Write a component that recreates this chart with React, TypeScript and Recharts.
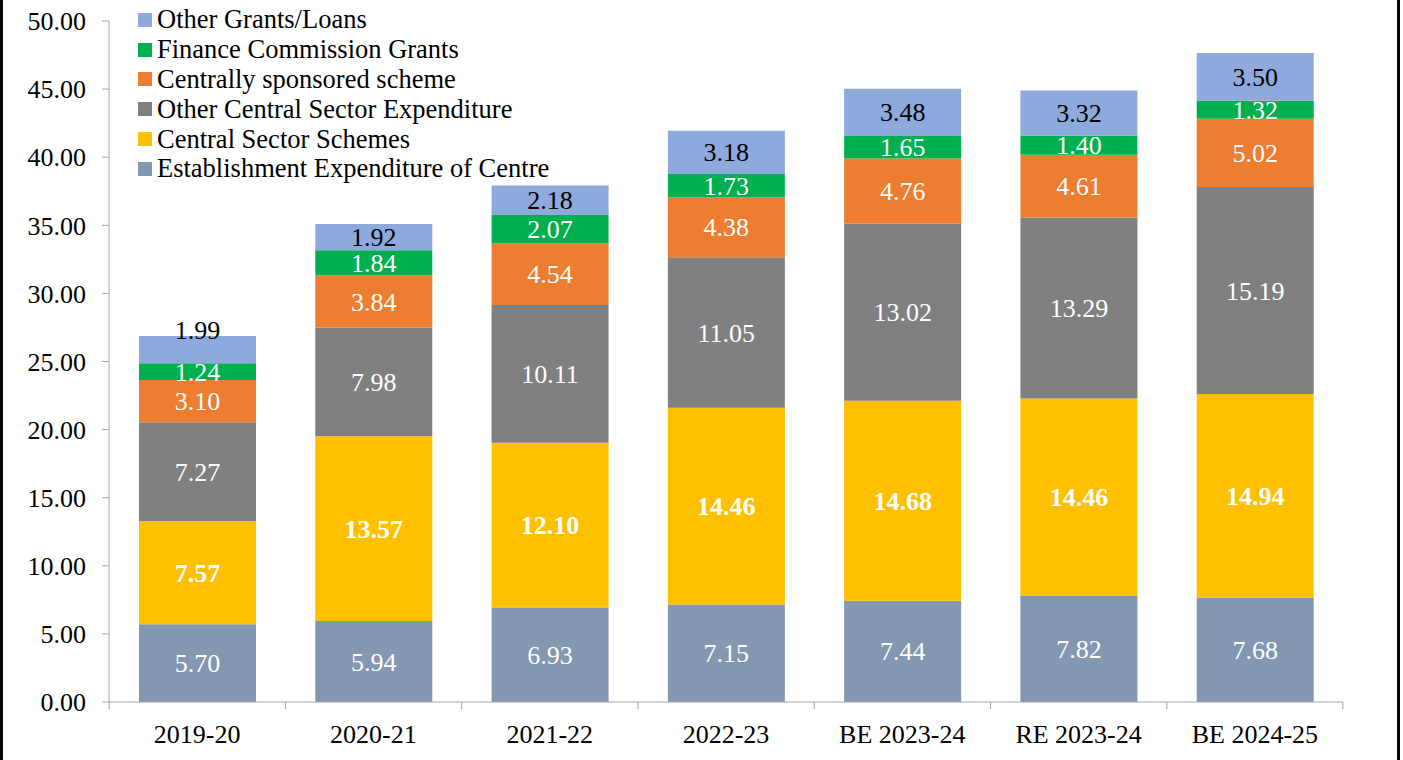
import React from 'react';
import { BarChart, Bar, XAxis, YAxis, LabelList } from 'recharts';

const years = ['2019-20', '2020-21', '2021-22', '2022-23', 'BE 2023-24', 'RE 2023-24', 'BE 2024-25'];

const establishment = [5.7, 5.94, 6.93, 7.15, 7.44, 7.82, 7.68];
const centralSchemes = [7.57, 13.57, 12.1, 14.46, 14.68, 14.46, 14.94];
const otherCentral = [7.27, 7.98, 10.11, 11.05, 13.02, 13.29, 15.19];
const centrallySponsored = [3.1, 3.84, 4.54, 4.38, 4.76, 4.61, 5.02];
const financeCommission = [1.24, 1.84, 2.07, 1.73, 1.65, 1.4, 1.32];
const otherGrants = [1.99, 1.92, 2.18, 3.18, 3.48, 3.32, 3.5];

const yTicks = [0, 5, 10, 15, 20, 25, 30, 35, 40, 45, 50];

const FONT = '"Liberation Serif", "Times New Roman", serif';
const AXIS_GREY = '#A6A6A6';

const series = [
  { key: 'est', name: 'Establishment Expenditure of Centre', color: '#8497B0', label: '#FFFFFF', bold: false },
  { key: 'css', name: 'Central Sector Schemes', color: '#FFC000', label: '#FFFFFF', bold: true },
  { key: 'ocse', name: 'Other Central Sector Expenditure', color: '#808080', label: '#FFFFFF', bold: false },
  { key: 'cs', name: 'Centrally sponsored scheme', color: '#ED7D31', label: '#FFFFFF', bold: false },
  { key: 'fc', name: 'Finance Commission Grants', color: '#00B050', label: '#FFFFFF', bold: false },
  { key: 'ogl', name: 'Other Grants/Loans', color: '#8EA9DB', label: '#000000', bold: false },
];

const data = years.map((year, i) => ({
  year,
  est: establishment[i],
  css: centralSchemes[i],
  ocse: otherCentral[i],
  cs: centrallySponsored[i],
  fc: financeCommission[i],
  ogl: otherGrants[i],
}));

const HALF_BAND = 88;

function XTick(props: any) {
  const { x, y, payload, index } = props;
  const top = y - 8;
  return (
    <g>
      <line x1={x - HALF_BAND} x2={x - HALF_BAND} y1={top} y2={top + 7} stroke={AXIS_GREY} />
      {index === years.length - 1 && (
        <line x1={x + HALF_BAND} x2={x + HALF_BAND} y1={top} y2={top + 7} stroke={AXIS_GREY} />
      )}
      <text x={x} y={top + 41} textAnchor="middle" fontSize={26} fontFamily={FONT} fill="#000">
        {payload.value}
      </text>
    </g>
  );
}

// centred segment label; the first top label sits a little higher, as in the source
function makeLabel(s: typeof series[number]) {
  return (props: any) => {
    const { x, y, width, height, value, index } = props;
    const lift = s.key === 'ogl' && index === 0 ? 20 : 0;
    return (
      <text
        x={x + width / 2}
        y={y + height / 2 - lift}
        dy="0.35em"
        textAnchor="middle"
        fill={s.label}
        fontSize={26}
        fontFamily={FONT}
        fontWeight={s.bold ? 'bold' : 'normal'}
      >
        {Number(value).toFixed(2)}
      </text>
    );
  };
}

// legend sits over the plot, top-left, in reverse stack order
function LegendBox() {
  const items = [...series].reverse();
  return (
    <div style={{ position: 'absolute', left: 138, top: 5, fontFamily: FONT, fontSize: 26.5, color: '#000' }}>
      {items.map(s => (
        <div key={s.key} style={{ display: 'flex', alignItems: 'center', height: 29.8, whiteSpace: 'nowrap' }}>
          <span style={{ width: 14, height: 14, background: s.color, marginRight: 5, display: 'inline-block' }} />
          <span>{s.name}</span>
        </div>
      ))}
    </div>
  );
}

export default function App() {
  return (
    <div style={{ position: 'absolute', left: 0, top: 0, width: 1403, height: 760, background: '#fff' }}>
      <BarChart
        width={1403}
        height={760}
        data={data}
        margin={{ top: 21, right: 60, bottom: 18, left: 0 }}
        barSize={117}
      >
        <XAxis
          dataKey="year"
          axisLine={{ stroke: AXIS_GREY }}
          tickLine={false}
          tick={<XTick />}
          interval={0}
          height={40}
        />
        <YAxis
          domain={[0, 50]}
          ticks={yTicks}
          width={109}
          interval={0}
          tickFormatter={(v: number) => v.toFixed(2)}
          axisLine={{ stroke: AXIS_GREY }}
          tickLine={{ stroke: AXIS_GREY }}
          tickSize={7}
          tickMargin={16}
          tick={{ fontSize: 26, fontFamily: FONT, fill: '#000' }}
        />
        {series.map(s => (
          <Bar key={s.key} dataKey={s.key} name={s.name} stackId="a" fill={s.color} isAnimationActive={false}>
            <LabelList dataKey={s.key} content={makeLabel(s)} />
          </Bar>
        ))}
      </BarChart>
      <LegendBox />
      <div style={{ position: 'absolute', left: 0, top: 0, width: 3, height: 760, background: '#000' }} />
      <div style={{ position: 'absolute', left: 1397, top: 0, width: 3, height: 760, background: '#000' }} />
    </div>
  );
}
